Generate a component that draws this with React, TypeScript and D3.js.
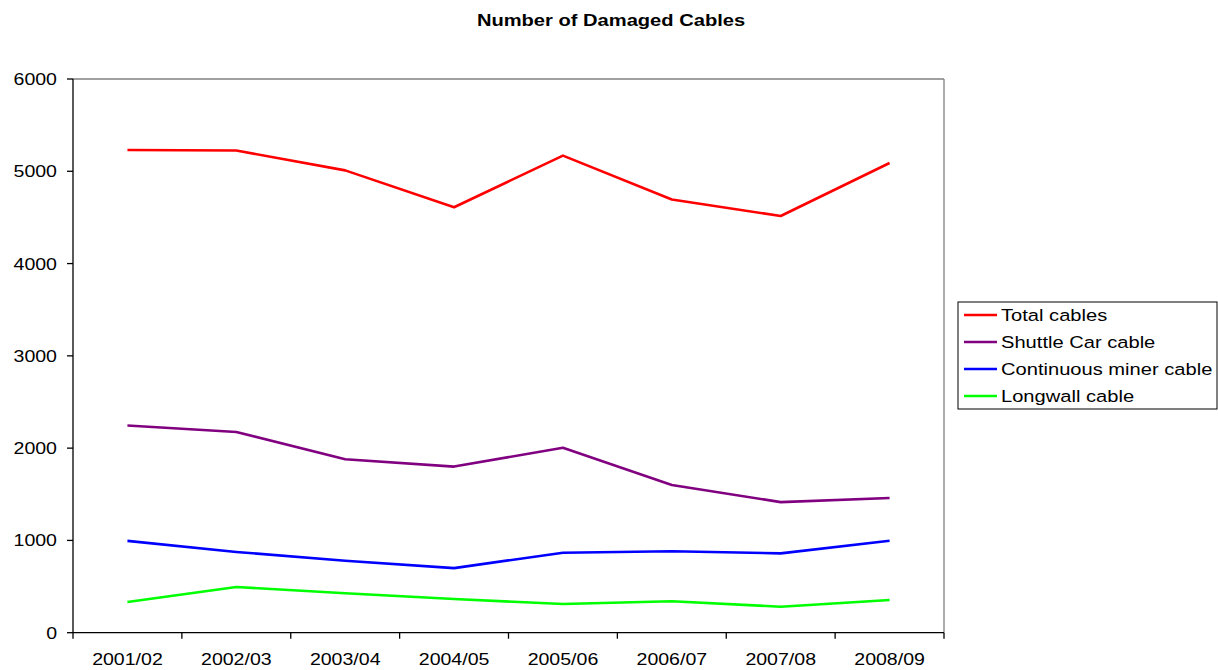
import React from "react";
import * as d3 from "d3";

// Financial years on the category axis
const years = ["2001/02", "2002/03", "2003/04", "2004/05", "2005/06", "2006/07", "2007/08", "2008/09"];

// Damaged cable counts per year
const totalCables = [5230, 5225, 5010, 4610, 5170, 4695, 4515, 5090];
const shuttleCarCable = [2245, 2175, 1880, 1800, 2005, 1600, 1415, 1460];
const continuousMinerCable = [995, 875, 780, 700, 867, 882, 860, 997];
const longwallCable = [333, 495, 427, 365, 311, 340, 282, 354];

const seriesNames = ["Total cables", "Shuttle Car cable", "Continuous miner cable", "Longwall cable"];
const seriesColors = ["#FF0000", "#800080", "#0000FF", "#00FF00"];
const seriesValues = [totalCables, shuttleCarCable, continuousMinerCable, longwallCable];

const yTicks = [0, 1000, 2000, 3000, 4000, 5000, 6000];

const W = 1218;
const H = 670;
const plot = { left: 73, right: 944, top: 79, bottom: 632.7 };
const FONT = "'Liberation Sans', Arial, Helvetica, sans-serif";

// Text with a slight horizontal stretch
function SText(props: {
  x: number;
  y: number;
  size: number;
  sx?: number;
  anchor?: "start" | "middle" | "end";
  weight?: string | number;
  children: React.ReactNode;
}) {
  const { x, y, size, sx = 1.2, anchor = "start", weight = "normal", children } = props;
  return (
    <text
      transform={`translate(${x},${y}) scale(${sx},1)`}
      fontFamily={FONT}
      fontSize={size}
      fontWeight={weight}
      textAnchor={anchor}
      fill="#000"
    >
      {children}
    </text>
  );
}

export default function App() {
  const x = d3
    .scaleBand<string>()
    .domain(years)
    .range([plot.left, plot.right])
    .paddingInner(0)
    .paddingOuter(0);
  const y = d3.scaleLinear().domain([0, 6000]).range([plot.bottom, plot.top]);

  const line = d3
    .line<number>()
    .x((_, i) => (x(years[i]) as number) + x.bandwidth() / 2)
    .y((d) => y(d));

  const boundaries = years.map((yr) => x(yr) as number).concat([plot.right]);

  const legend = { x: 958, y: 302, w: 259, h: 107, row0: 315, rowGap: 27 };

  return (
    <svg
      width={W}
      height={H}
      style={{ position: "absolute", left: 0, top: 0, background: "#fff" }}
    >
      <rect x={0} y={0} width={W} height={H} fill="#fff" />

      {/* title */}
      <SText x={611} y={26} size={16.5} sx={1.22} anchor="middle" weight="bold">
        Number of Damaged Cables
      </SText>

      {/* plot frame: top and right in grey */}
      <line x1={plot.left} x2={plot.right} y1={plot.top} y2={plot.top} stroke="#808080" strokeWidth={1.3} />
      <line x1={plot.right} x2={plot.right} y1={plot.top} y2={plot.bottom} stroke="#808080" strokeWidth={1.3} />

      {/* y axis */}
      <line x1={plot.left} x2={plot.left} y1={plot.top} y2={plot.bottom} stroke="#000" strokeWidth={1.3} />
      {yTicks.map((t) => (
        <g key={t}>
          <line x1={plot.left - 6} x2={plot.left} y1={y(t)} y2={y(t)} stroke="#000" strokeWidth={1.3} />
          <SText x={57} y={y(t) + 6} size={17} sx={1.15} anchor="end">
            {t}
          </SText>
        </g>
      ))}

      {/* x axis */}
      <line x1={plot.left} x2={plot.right} y1={plot.bottom} y2={plot.bottom} stroke="#000" strokeWidth={1.3} />
      {boundaries.map((bx, i) => (
        <line key={i} x1={bx} x2={bx} y1={plot.bottom} y2={plot.bottom + 6} stroke="#000" strokeWidth={1.3} />
      ))}
      {years.map((yr) => (
        <SText key={yr} x={(x(yr) as number) + x.bandwidth() / 2} y={665} size={17} sx={1.15} anchor="middle">
          {yr}
        </SText>
      ))}

      {/* series */}
      {seriesValues.map((vals, i) => (
        <path
          key={seriesNames[i]}
          d={line(vals) || ""}
          fill="none"
          stroke={seriesColors[i]}
          strokeWidth={2.6}
          strokeLinejoin="round"
        />
      ))}

      {/* legend */}
      <rect x={legend.x} y={legend.y} width={legend.w} height={legend.h} fill="#fff" stroke="#000" strokeWidth={1} />
      {seriesNames.map((name, i) => {
        const cy = legend.row0 + i * legend.rowGap;
        return (
          <g key={name}>
            <line x1={964} x2={997} y1={cy} y2={cy} stroke={seriesColors[i]} strokeWidth={2.6} />
            <SText x={1001} y={cy + 6} size={16.5} sx={1.22}>
              {name}
            </SText>
          </g>
        );
      })}
    </svg>
  );
}
